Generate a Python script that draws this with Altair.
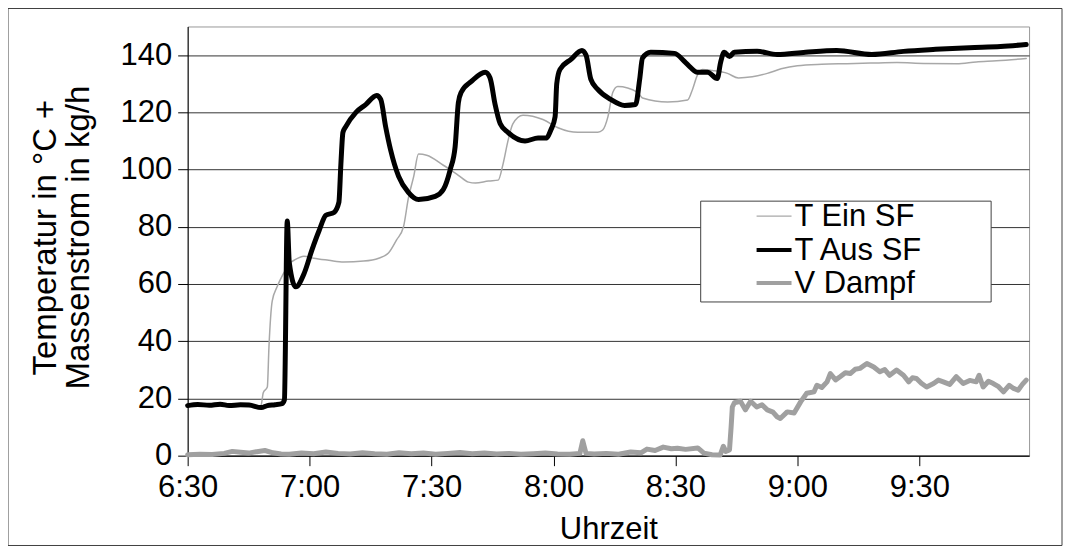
import altair as alt
import pandas as pd

# ---------------- data (time in minutes after midnight) ----------------
t_ein_min = [390, 395, 400, 405, 408.0, 408.6, 409.6, 410.0, 410.8, 412.0, 413.7, 414.9, 416.2, 418.6,
             421.0, 424.7, 428.4, 433.3, 437.0, 439.4, 441.4, 443.1, 444.3, 445.6, 446.8, 448.8,
             452.9, 456.6, 459.1, 460.8, 464.0, 466.4, 467.6, 468.8, 470.0, 472.5, 477.4, 481.1,
             486.0, 490.9, 492.1, 493.4, 494.6, 495.8, 500.7, 501.9, 508.1, 513.0, 514.2, 515.4,
             516.6, 519.1, 522.8, 525.5, 528.9, 532.6, 536.0, 540.0, 546.0, 552.2, 558.0, 564.5,
             571.0, 579.2, 584.0, 589.0, 596.3]
t_ein_val = [17.3, 17.5, 17.2, 17.4, 17.3, 22.0, 24.0, 38.0, 54.0, 59.0, 64.0, 67.0, 68.3, 69.7,
             69.0, 68.3, 67.7, 68.0, 69.0, 70.8, 75.4, 80.0, 90.0, 97.5, 105.4, 105.0,
             101.5, 98.0, 95.6, 95.3, 96.0, 96.3, 102.0, 110.0, 116.0, 119.0, 117.5, 114.6,
             113.0, 113.0, 113.8, 118.5, 127.0, 129.0, 127.0, 125.0, 123.6, 124.3, 128.0, 133.0,
             135.0, 134.6, 133.6, 132.0, 132.4, 133.6, 135.2, 136.3, 136.8, 137.0, 137.2, 137.4,
             137.1, 137.0, 137.6, 138.0, 138.8]

t_aus_min = [390, 392.5, 395.3, 398.0, 400.2, 403.0, 405.1, 408.1, 409.6, 411.5, 413.2, 413.8, 414.5,
             415.0, 416.6, 418.6, 420.6, 422.3, 424.0, 426.0, 427.2, 427.7, 428.2, 428.9, 431.4,
             433.8, 436.5, 437.5, 438.7, 439.9, 441.9, 444.3, 446.8, 450.9, 452.9, 454.6, 455.8,
             456.6, 457.3, 459.8, 463.2, 464.4, 465.6, 466.9, 468.8, 473.0, 476.2, 478.1, 479.4,
             480.4, 480.8, 481.6, 484.3, 487.0, 488.0, 489.2, 490.9, 494.1, 497.5, 500.2, 501.2,
             501.9, 503.9, 509.8, 512.2, 513.7, 515.4, 517.9, 520.3, 521.1, 522.0, 523.3, 524.5,
             530.1, 535.0, 542.0, 549.7, 558.3, 566.1, 574.0, 582.3, 590.0, 596.3]
t_aus_val = [17.5, 17.9, 17.6, 18.0, 17.5, 17.8, 17.7, 16.8, 17.5, 17.8, 18.2, 19.5, 82.0,
             67.5, 59.0, 63.5, 72.0, 78.5, 84.0, 85.0, 88.5, 102.0, 113.0, 115.0, 120.0,
             122.7, 125.9, 124.5, 115.0, 107.0, 97.6, 92.0, 89.5, 90.6, 93.0, 100.0, 108.0,
             123.4, 127.0, 130.8, 134.0, 132.0, 123.0, 116.0, 113.0, 110.0, 111.0, 111.0, 114.0,
             118.5, 130.0, 135.0, 138.5, 141.6, 140.0, 131.5, 128.0, 124.5, 122.4, 122.7, 131.5,
             139.0, 141.0, 140.6, 137.8, 135.7, 134.0, 134.0, 131.8, 137.4, 141.0, 139.5, 141.0,
             141.3, 140.2, 141.0, 141.6, 140.2, 141.3, 142.0, 142.6, 143.0, 143.7]

v_dampf_min = [390, 393, 396, 399, 401, 403, 405, 407, 409, 411, 413, 415, 418, 421, 424, 427, 430,
               433, 436, 439, 442, 445, 448, 451, 454, 457, 460, 463, 466, 469, 472, 475, 478, 481,
               484, 486.5, 487.2, 488.0, 490, 493, 496, 499, 501.5, 503, 505, 507, 509, 510.5,
               512.5, 515.5, 517, 519, 521, 521.8, 522.4, 523.3, 523.7, 524.0, 524.5, 526.0,
               527.2, 528.5, 530.0, 531.3, 532.6, 534.0, 535.0, 535.8, 537.5, 539.2, 540.8,
               542.3, 544.1, 544.8, 546.0, 547.3, 548.1, 549.4, 550.5, 551.8, 553.0, 554.2,
               555.4, 557.1, 558.8, 560.3, 561.5, 562.7, 564.4, 566.1, 567.4, 568.3, 569.3,
               570.5, 571.8, 573.5, 574.7, 575.9, 577.5, 579.1, 580.8, 582.4, 584.0, 584.7,
               585.7, 587.0, 588.2, 589.5, 590.7, 592.1, 593.2, 594.3, 595.4, 596.3]
v_dampf_val = [0.3, 0.5, 0.4, 0.8, 1.5, 1.2, 0.9, 1.4, 1.8, 1.0, 0.6, 0.5, 0.9, 0.7, 1.3, 0.8, 0.6,
               1.0, 0.7, 0.5, 1.0, 0.7, 0.9, 0.5, 0.8, 1.1, 0.7, 0.9, 0.6, 0.8, 0.5, 0.7, 0.9, 0.6,
               0.5, 0.8, 5.2, 0.8, 0.6, 0.8, 0.5, 1.3, 1.0, 2.3, 1.8, 3.0, 2.4, 2.6,
               2.2, 2.7, 0.9, 0.3, 0.2, 3.3, 1.5, 2.0, 10.0, 17.0, 18.5, 19.0,
               16.0, 19.0, 17.0, 17.8, 16.0, 15.2, 13.6, 13.0, 15.3, 14.9, 18.8,
               21.8, 22.3, 24.6, 23.8, 25.8, 28.7, 26.5, 27.6, 29.0, 28.7, 30.2,
               30.5, 32.2, 31.0, 29.3, 30.1, 28.1, 29.9, 28.1, 25.8, 27.2, 27.0,
               25.3, 24.0, 25.2, 26.4, 25.8, 24.9, 27.6, 25.2, 26.3, 25.8, 28.1,
               24.0, 26.0, 25.2, 24.1, 22.3, 24.6, 23.5, 22.9, 25.0, 26.4]

series_names = ["T Ein SF", "T Aus SF", "V Dampf"]
series_colors = ["#a8a8a8", "#000000", "#a0a0a0"]
series_widths = [1.5, 5, 5]
series_interp = ["monotone", "monotone", "linear"]

x_domain = [390, 597]
x_ticks = [390, 420, 450, 480, 510, 540, 570]
y_domain = [0, 150]
y_ticks = [0, 20, 40, 60, 80, 100, 120, 140]

x_title = "Uhrzeit"
y_title = ["Temperatur in °C +", "Massenstrom in kg/h"]

# ---------------- table ----------------
rows = []
for name, ts, vs in [(series_names[0], t_ein_min, t_ein_val),
                     (series_names[1], t_aus_min, t_aus_val),
                     (series_names[2], v_dampf_min, v_dampf_val)]:
    for t, v in zip(ts, vs):
        rows.append({"serie": name, "t": t, "v": v})
df = pd.DataFrame(rows)

FONT = "Liberation Sans"
FS = 31
W, H = 843, 430

x_enc = alt.X("t:Q",
              scale=alt.Scale(domain=x_domain, nice=False, zero=False),
              axis=alt.Axis(values=x_ticks,
                            labelExpr="floor(datum.value/60) + ':' + (datum.value % 60 < 10 ? '0' : '') + (datum.value % 60)",
                            title=x_title, grid=False, tickSize=10, labelPadding=7, labelFlush=False,
                            titleX=W / 2, titleY=74, titleAlign="center", titleBaseline="middle"))
y_enc = alt.Y("v:Q",
              scale=alt.Scale(domain=y_domain, nice=False, zero=True),
              axis=alt.Axis(values=y_ticks, title=y_title, grid=True, tickSize=10, labelPadding=6,
                            labelFlush=False, titleFontSize=33,
                            titleX=-158, titleY=H / 2 - 4, titleAngle=-90, titleAlign="center",
                            titleBaseline="top", titleLineHeight=33))

base = alt.Chart(df)
layers = []
for i, name in enumerate(series_names):
    layers.append(
        base.transform_filter(alt.datum.serie == name)
        .mark_line(color=series_colors[i], strokeWidth=series_widths[i],
                   strokeJoin="round", strokeCap="round", interpolate=series_interp[i])
        .encode(x=x_enc, y=y_enc, order="t:Q")
    )
# draw order: V Dampf, T Ein SF, T Aus SF on top
lines = [layers[2], layers[0], layers[1]]

one = alt.Chart(pd.DataFrame({"k": [0]}))

# legend box
leg_box = one.mark_rect(fill="white", stroke="#404040", strokeWidth=1).encode(
    x=alt.value(514), x2=alt.value(805), y=alt.value(175), y2=alt.value(276))
leg_rows_y = [190, 224, 257]
leg_layers = [leg_box]
for i, name in enumerate(series_names):
    leg_layers.append(one.mark_rule(color=series_colors[i], strokeWidth=series_widths[i] * 0.8)
                      .encode(x=alt.value(570), x2=alt.value(605), y=alt.value(leg_rows_y[i])))
    leg_layers.append(one.mark_text(text=name, align="left", baseline="middle", font=FONT,
                                    fontSize=FS, color="black", dy=1)
                      .encode(x=alt.value(608), y=alt.value(leg_rows_y[i])))

frame = one.mark_rect(filled=False, stroke="#404040", strokeWidth=1).encode(
    x=alt.value(-180), x2=alt.value(876), y=alt.value(-18), y2=alt.value(520))

chart = alt.layer(*lines, *leg_layers, frame).properties(
    width=W, height=H,
    autosize=alt.AutoSizeParams(type="none"),
    padding={"left": 180, "top": 18, "right": 36, "bottom": 92},
).configure(background="white"
).configure_view(stroke="#999999", strokeWidth=1
).configure_axis(
    labelFont=FONT, labelFontSize=FS, labelColor="black",
    titleFont=FONT, titleFontSize=FS, titleFontWeight="normal", titleColor="black",
    domainColor="black", domainWidth=1, tickColor="black", tickWidth=1,
    gridColor="#333333", gridWidth=1, gridOpacity=1,
)

chart.save("out.html", embed_options={"renderer": "svg", "actions": False})
